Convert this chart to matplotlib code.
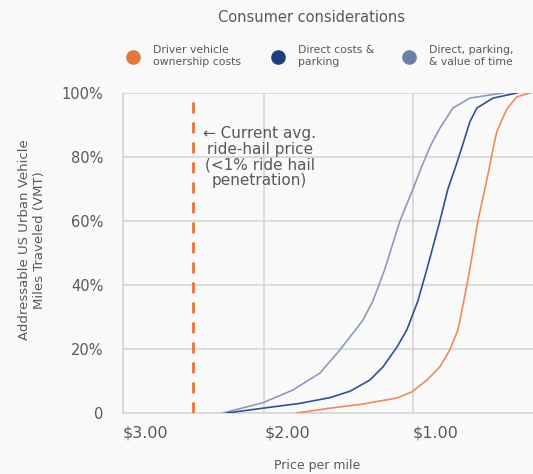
import matplotlib
matplotlib.use('Agg')
import matplotlib.pyplot as plt

plt.rcParams['font.family'] = ['DejaVu Sans']

# price per mile ($) and share of addressable VMT (%)
own_price = [1.78, 1.557, 1.335, 1.106, 1.005, 0.904, 0.817, 0.75, 0.696, 0.669, 0.635, 0.615,
             0.561, 0.514, 0.48, 0.458, 0.433, 0.393, 0.366, 0.299, 0.211]
own_pct = [0, 1.5, 2.8, 4.7, 6.6, 10.3, 14.4, 19.7, 25.9, 32, 40, 45,
           60, 70, 77.5, 82.8, 88, 92.2, 95, 98.8, 100]

direct_price = [2.25, 2.008, 1.76, 1.557, 1.422, 1.288, 1.2, 1.106, 1.039, 0.965, 0.904, 0.817,
                0.763, 0.707, 0.662, 0.615, 0.568, 0.46, 0.299]
direct_pct = [0, 1.5, 3, 4.8, 6.8, 10.3, 14.4, 20.6, 26, 35, 45, 60,
              70, 77.5, 84, 91, 95.3, 98.4, 100]

time_price = [2.277, 2.008, 1.806, 1.624, 1.49, 1.335, 1.268, 1.187, 1.086, 0.998, 0.935, 0.88,
              0.817, 0.729, 0.615, 0.393]
time_pct = [0, 3.2, 7.2, 12.5, 19.7, 29, 35, 45, 60, 70, 77.5, 83.5,
            89, 95.3, 98.4, 100]

ride_hail_price = 2.48

series_names = ['Driver vehicle\nownership costs', 'Direct costs &\nparking', 'Direct, parking,\n& value of time']
marker_colors = ['#E2773F', '#1E3E7E', '#6E7FA2']
line_colors = ['#EE8A5C', '#2F5193', '#8C9BBA']

x_ticks = [2.95, 2.0, 1.0]
x_labels = ['$3.00', '$2.00', '$1.00']
y_ticks = [0, 20, 40, 60, 80, 100]
y_labels = ['0', '20%', '40%', '60%', '80%', '100%']

bg = '#F9F9F9'
txt = '#595959'
grid = '#D8D8D8'

fig = plt.figure(figsize=(5.33, 4.74), dpi=100, facecolor=bg)
ax = fig.add_axes([0.2308, 0.1287, 0.7692, 0.6751])
ax.set_facecolor(bg)

ax.plot(time_price, time_pct, color=line_colors[2], lw=1.2, zorder=3, solid_joinstyle='round')
ax.plot(direct_price, direct_pct, color=line_colors[1], lw=1.2, zorder=3, solid_joinstyle='round')
ax.plot(own_price, own_pct, color=line_colors[0], lw=1.2, zorder=3, solid_joinstyle='round')

ax.axvline(ride_hail_price, color='#E8743B', lw=2, dashes=(4, 3.2), zorder=4)
ax.text(2.03, 80, '← Current avg.\nride-hail price\n(<1% ride hail\npenetration)',
        ha='center', va='center', fontsize=11, color=txt, linespacing=1.08, zorder=5)

ax.set_xlim(2.95, 0.19)
ax.set_ylim(0, 100)
ax.set_xticks(x_ticks)
ax.set_xticklabels(x_labels, ha='left', fontsize=11.5)
ax.set_yticks(y_ticks)
ax.set_yticklabels(y_labels, fontsize=10.5)
ax.tick_params(length=0, labelcolor=txt)
ax.tick_params(axis='y', pad=14)
ax.tick_params(axis='x', pad=9)
for lbl in ax.get_xticklabels():
    lbl.set_x(lbl.get_position()[0])
ax.grid(True, color=grid, lw=1.3)
ax.set_axisbelow(True)
for s in ['top', 'right']:
    ax.spines[s].set_visible(False)
for s in ['left', 'bottom']:
    ax.spines[s].set_color(grid)
    ax.spines[s].set_linewidth(1.3)

fig.text(317 / 533, 1 - 465 / 474, 'Price per mile', ha='center', va='center',
         fontsize=9, color=txt)
fig.text(32 / 533, 1 - 240 / 474, 'Addressable US Urban Vehicle\nMiles Traveled (VMT)',
         rotation=90, ha='center', va='center', fontsize=9.5, color=txt, linespacing=1.1)

fig.text(312 / 533, 1 - 17 / 474, 'Consumer considerations', ha='center', va='center',
         fontsize=10.5, color=txt)

# legend by hand
leg_x = [133, 278, 409]
for name, mc, lx in zip(series_names, marker_colors, leg_x):
    fig.lines.append(plt.Line2D([lx / 533], [1 - 57 / 474], marker='o', ms=9.5,
                                color=mc, transform=fig.transFigure))
    fig.text((lx + 20) / 533, 1 - 56 / 474, name, ha='left', va='center',
             fontsize=7.8, color=txt, linespacing=1.15)

fig.savefig('out.png', dpi=100, facecolor=bg)
